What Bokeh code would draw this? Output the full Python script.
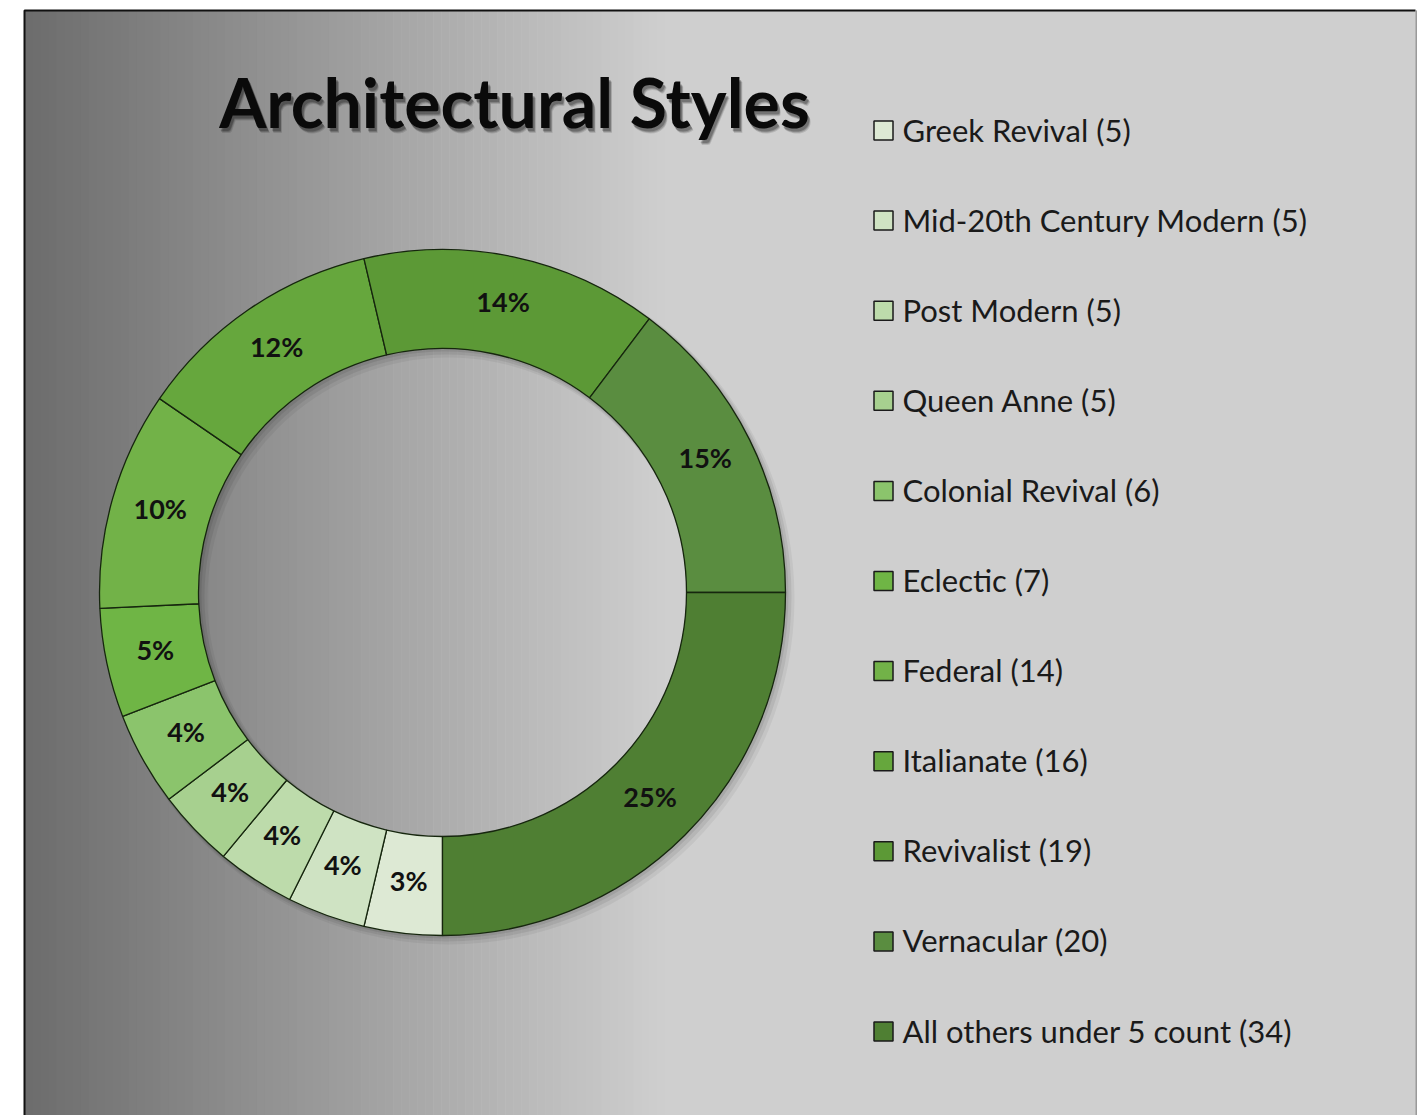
import math
from bokeh.plotting import figure
from bokeh.models import Range1d
from bokeh.core.properties import value
from bokeh.embed import file_html
from bokeh.resources import INLINE

# ---- data ----
categories = ["Greek Revival", "Mid-20th Century Modern", "Post Modern", "Queen Anne",
              "Colonial Revival", "Eclectic", "Federal", "Italianate", "Revivalist",
              "Vernacular", "All others under 5 count"]
counts = [5, 5, 5, 5, 6, 7, 14, 16, 19, 20, 34]
pct_labels = ["3%", "4%", "4%", "4%", "4%", "5%", "10%", "12%", "14%", "15%", "25%"]
colors = ["#dde9d4", "#cfe3c3", "#bddbab", "#a7d08f", "#8bc46c", "#6fb545",
          "#72b248", "#66a73d", "#5c9936", "#5a8d40", "#4f7f33"]
title = "Architectural Styles"

W, H = 1417, 1115
def Y(py):
    return H - py

p = figure(width=W, height=H, x_range=Range1d(0, W), y_range=Range1d(0, H),
           output_backend="svg", toolbar_location=None, min_border=0,
           x_axis_location=None, y_axis_location=None)
p.grid.visible = False
p.outline_line_color = None
p.background_fill_color = "white"
p.border_fill_color = "white"

# ---- background gradient (chart area) ----
x0, x1, xg = 24, W, 665
n = 80
lefts, rights, cols = [], [], []
c0, c1 = 108, 207
for i in range(n):
    a = x0 + (xg - x0) * i / n
    b = x0 + (xg - x0) * (i + 1) / n
    v = int(round(c0 + (c1 - c0) * (i + 0.5) / n))
    lefts.append(a); rights.append(b + 0.6); cols.append("#%02x%02x%02x" % (v, v, v))
lefts.append(xg); rights.append(x1); cols.append("#cfcfcf")
p.quad(left=lefts, right=rights, top=[Y(10)] * len(lefts), bottom=[Y(H + 5)] * len(lefts),
       fill_color=cols, line_color=None)
# border
p.line(x=[x0, x0, W - 2], y=[Y(H + 5), Y(10), Y(10)], line_color="#111111", line_width=2)
p.line(x=[W - 1, W - 1], y=[Y(10), Y(H + 5)], line_color="#9a9a9a", line_width=2)

# ---- donut ----
cx, cy = 442, Y(592)
r_out, r_in = 343, 244
T = sum(counts)
starts, ends, mids = [], [], []
cum = 0
for v in counts:
    s = -math.pi / 2 - 2 * math.pi * cum / T
    e = -math.pi / 2 - 2 * math.pi * (cum + v) / T
    m = -math.pi / 2 - 2 * math.pi * (cum + v / 2) / T
    starts.append(s); ends.append(e); mids.append(m)
    cum += v

# soft shadow
for off, al in [(6, 0.05), (4, 0.07), (2, 0.08)]:
    p.annulus(x=cx + off, y=cy - off, inner_radius=r_in - off / 2, outer_radius=r_out + off / 2,
              fill_color="black", fill_alpha=al, line_color=None)

p.annular_wedge(x=[cx] * len(counts), y=[cy] * len(counts), inner_radius=r_in, outer_radius=r_out,
                start_angle=starts, end_angle=ends, direction="clock",
                fill_color=colors, line_color="#16260e", line_width=1.3)

r_mid = (r_in + r_out) / 2
lx = [cx + r_mid * math.cos(a) for a in mids]
ly = [cy + r_mid * math.sin(a) for a in mids]
p.text(x=lx, y=ly, text=pct_labels, text_font=value("Lato"), text_font_style="bold",
       text_font_size="27px", text_color="#111111", text_align="center",
       text_baseline="alphabetic", y_offset=-4)

# ---- title ----
tx, ty = 514, Y(101)
for off, al in [(5, 0.12), (4, 0.18), (3, 0.22)]:
    p.text(x=[tx + off * 0.6], y=[ty - off], text=[title], text_font=value("Lato"),
           text_font_style="bold", text_font_size="68px", text_color="black",
           text_alpha=al, text_align="center", text_baseline="alphabetic")
p.text(x=[tx], y=[ty], text=[title], text_font=value("Lato"), text_font_style="bold",
       text_font_size="68px", text_color="#0a0a0a", text_align="center",
       text_baseline="alphabetic")

# ---- legend ----
row0, step = 130, 90.1
ry = [Y(row0 + step * i) for i in range(len(categories))]
leg_text = ["%s (%d)" % (c, v) for c, v in zip(categories, counts)]
p.rect(x=[883] * len(categories), y=ry, width=19, height=19,
       fill_color=colors, line_color="#1a1a1a", line_width=1.5)
p.text(x=[902] * len(categories), y=ry, text=leg_text, text_font=value("Lato"),
       text_font_size="31px", text_color="#1a1a1a", text_align="left",
       text_baseline="alphabetic", y_offset=-1)

open("out.html", "w").write(file_html(p, INLINE))
